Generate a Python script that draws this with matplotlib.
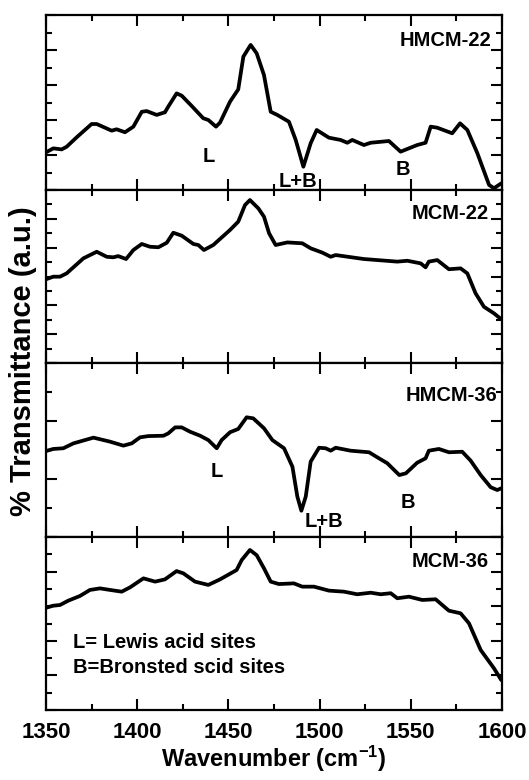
import matplotlib
matplotlib.use("Agg")
import matplotlib.pyplot as plt
from matplotlib.ticker import MultipleLocator

plt.rcParams['font.family'] = ['Liberation Sans', 'DejaVu Sans']
plt.rcParams['font.weight'] = 'bold'
plt.rcParams['mathtext.fontset'] = 'custom'
plt.rcParams['mathtext.rm'] = 'Liberation Sans:bold'
plt.rcParams['mathtext.bf'] = 'Liberation Sans:bold'
plt.rcParams['mathtext.default'] = 'bf'

# ---- spectra (wavenumber, transmittance in arbitrary panel units) ----
hmcm22_x = [1350, 1354, 1358.6, 1361.3, 1366.8, 1375, 1377.8, 1386, 1388.7, 1393.3,
            1397.9, 1402.5, 1405.2, 1410.7, 1415.2, 1417, 1421.6, 1424.4, 1429.9, 1436.2,
            1439, 1443.2, 1445.4, 1450.9, 1455.4, 1458.2, 1462.2, 1465.5, 1469.5, 1473.2,
            1476.8, 1483.2, 1486.9, 1491.1, 1495.1, 1498.4, 1505.1, 1511.5, 1515.2, 1517.9,
            1524.3, 1528, 1538, 1544.4, 1553.5, 1558.1, 1560.9, 1564.5, 1572.7, 1577,
            1581, 1586.5, 1592.9, 1595.6, 1599.6]
hmcm22_y = [2.15, 2.38, 2.32, 2.47, 3.01, 3.77, 3.77, 3.39, 3.47, 3.30,
            3.62, 4.47, 4.51, 4.29, 4.44, 4.76, 5.52, 5.39, 4.80, 4.10,
            4.0, 3.62, 3.85, 5.05, 5.75, 7.62, 8.29, 7.81, 6.57, 4.47,
            4.29, 3.90, 2.86, 1.33, 2.67, 3.43, 2.99, 2.86, 2.70, 2.86,
            2.57, 2.70, 2.80, 2.19, 2.57, 2.70, 3.62, 3.56, 3.24, 3.81,
            3.43, 2.10, 0.29, 0.10, 0.38]

mcm22_x = [1350, 1354, 1357.7, 1361.3, 1370.5, 1377.8, 1383.3, 1386.9, 1389.6, 1393.9,
           1397.9, 1402.5, 1407, 1411.6, 1416.2, 1419.8, 1424.4, 1430.8, 1433.5, 1436.6,
           1441.7, 1450.9, 1455.4, 1459.1, 1461.8, 1466.4, 1469.5, 1472.3, 1475.9, 1482.3,
           1490.5, 1495.1, 1501.5, 1506.1, 1508.8, 1524.3, 1542.6, 1548.1, 1555.4, 1558.1,
           1559.9, 1564.5, 1570.9, 1577.3, 1581, 1585.5, 1590.1, 1595.6, 1599.6]
mcm22_y = [4.84, 4.99, 4.99, 5.18, 6.05, 6.43, 6.14, 6.11, 6.18, 6.01,
           6.53, 6.88, 6.72, 6.69, 6.95, 7.53, 7.36, 6.88, 6.82, 6.53,
           6.82, 7.69, 8.17, 9.13, 9.42, 8.94, 8.46, 7.50, 6.82, 6.97,
           6.92, 6.63, 6.38, 6.14, 6.24, 6.01, 5.86, 5.91, 5.76, 5.53,
           5.86, 5.95, 5.42, 5.47, 5.18, 4.03, 3.25, 2.87, 2.53]

hmcm36_x = [1350, 1354, 1359.5, 1365, 1376, 1385.1, 1392.4, 1397, 1401.6, 1406.1,
            1414.4, 1417.1, 1420.8, 1424.4, 1429, 1434.5, 1439, 1443.6, 1446.3, 1450.9,
            1455.4, 1460, 1463.6, 1469.5, 1474.1, 1480.5, 1485.1, 1487.8, 1490, 1492.4,
            1495.1, 1499.7, 1503.3, 1506.1, 1508.8, 1517, 1527.1, 1532.6, 1537.1, 1543.7,
            1547.3, 1553.5, 1558.1, 1559.9, 1565.4, 1570.9, 1578.2, 1582.8, 1588.3, 1593.8,
            1597.4, 1599.6]
hmcm36_y = [4.94, 5.06, 5.10, 5.38, 5.71, 5.48, 5.25, 5.38, 5.73, 5.80,
            5.82, 5.96, 6.30, 6.30, 6.05, 5.82, 5.57, 5.10, 5.57, 6.02,
            6.21, 6.88, 6.82, 6.25, 5.57, 5.10, 4.04, 2.32, 1.51, 2.32,
            4.33, 5.13, 5.10, 4.96, 5.13, 4.96, 4.87, 4.52, 4.24, 3.56,
            3.66, 4.27, 4.52, 4.96, 5.06, 4.87, 4.90, 4.39, 3.56, 2.86,
            2.70, 2.80]

mcm36_x = [1350, 1354, 1357.7, 1362.2, 1368.6, 1374.1, 1379.6, 1385.1, 1391.5, 1396.1,
           1403.4, 1409.8, 1415.2, 1421.6, 1425.3, 1431.7, 1439, 1445.4, 1454.5, 1457.3,
           1461.8, 1465.5, 1469.5, 1473.2, 1477.7, 1485.9, 1490.5, 1496.9, 1505.1, 1513.4,
           1520.6, 1528, 1533.5, 1539, 1542.6, 1549, 1556.3, 1563.6, 1570.9, 1577.3,
           1581.9, 1588.3, 1595.6, 1599.6]
mcm36_y = [5.91, 6.03, 6.07, 6.32, 6.59, 6.94, 7.03, 6.94, 6.84, 7.09,
           7.61, 7.42, 7.55, 8.03, 7.90, 7.42, 7.23, 7.55, 8.09, 8.67,
           9.25, 8.95, 8.19, 7.42, 7.28, 7.32, 7.13, 7.13, 6.90, 6.84,
           6.69, 6.78, 6.69, 6.75, 6.46, 6.55, 6.36, 6.40, 5.74, 5.59,
           5.01, 3.47, 2.41, 1.73]

sample_names = ["HMCM-22", "MCM-22", "HMCM-36", "MCM-36"]
x_ticks = [1350, 1400, 1450, 1500, 1550, 1600]
# y tick step per panel (panel units span 0..10)
y_steps = [1.0, 10 / 12, 10 / 6, 1.0]

series = [(hmcm22_x, hmcm22_y), (mcm22_x, mcm22_y),
          (hmcm36_x, hmcm36_y), (mcm36_x, mcm36_y)]

W, H = 529, 780
fig = plt.figure(figsize=(W / 100, H / 100), dpi=100)

left, right = 46 / W, 502 / W
edges_px = [15, 190, 363, 537, 710]
axes = []
for i in range(4):
    top = 1 - edges_px[i] / H
    bot = 1 - edges_px[i + 1] / H
    ax = fig.add_axes([left, bot, right - left, top - bot])
    axes.append(ax)
    xs, ys = series[i]
    ax.plot(xs, ys, color='black', lw=2.7, solid_joinstyle='round', solid_capstyle='round')
    ax.set_xlim(1350, 1600)
    ax.set_ylim(0, 10)
    ax.xaxis.set_major_locator(MultipleLocator(50))
    ax.xaxis.set_minor_locator(MultipleLocator(25))
    ax.yaxis.set_major_locator(MultipleLocator(2 * y_steps[i]))
    ax.yaxis.set_minor_locator(MultipleLocator(y_steps[i]))
    ax.tick_params(which='both', direction='in', top=True, right=True, width=1.5)
    ax.tick_params(which='major', length=8)
    ax.tick_params(which='minor', length=4)
    ax.tick_params(axis='y', which='both', labelleft=False)
    for s in ax.spines.values():
        s.set_linewidth(1.6)
    if i < 3:
        ax.tick_params(axis='x', labelbottom=False)
    else:
        ax.set_xticks(x_ticks)
        ax.tick_params(axis='x', labelsize=16, pad=9)
        for lab in ax.get_xticklabels():
            lab.set_fontweight('bold')

# sample names
name_pos = [(491, 46), (489, 219), (497, 401), (489, 567)]
for name, (px, py) in zip(sample_names, name_pos):
    fig.text(px / W, 1 - py / H, name, ha='right', va='baseline',
             fontsize=14.5, fontweight='bold')

# band assignments
lab_kw = dict(ha='center', va='baseline', fontsize=14.5, fontweight='bold')
axes[0].text(1439.4, 1.6, "L", **lab_kw)
axes[0].text(1488.2, 0.17, "L+B", **lab_kw)
axes[0].text(1545.7, 0.86, "B", **lab_kw)
axes[2].text(1443.8, 3.45, "L", **lab_kw)
axes[2].text(1502.4, 0.57, "L+B", **lab_kw)
axes[2].text(1548.5, 1.67, "B", **lab_kw)

axes[3].text(1364.8, 3.58, "L= Lewis acid sites", ha='left', va='baseline',
             fontsize=14.5, fontweight='bold')
axes[3].text(1364.8, 2.14, "B=Bronsted scid sites", ha='left', va='baseline',
             fontsize=14.5, fontweight='bold')

fig.text(274 / W, 1 - 767 / H, r"Wavenumber (cm$^{-1}$)", ha='center', va='baseline',
         fontsize=17, fontweight='bold')
fig.text(23 / W, 1 - 361.5 / H, "% Transmittance (a.u.)", rotation=90,
         ha='center', va='center', fontsize=21, fontweight='bold')

fig.savefig("out.png", dpi=100)
